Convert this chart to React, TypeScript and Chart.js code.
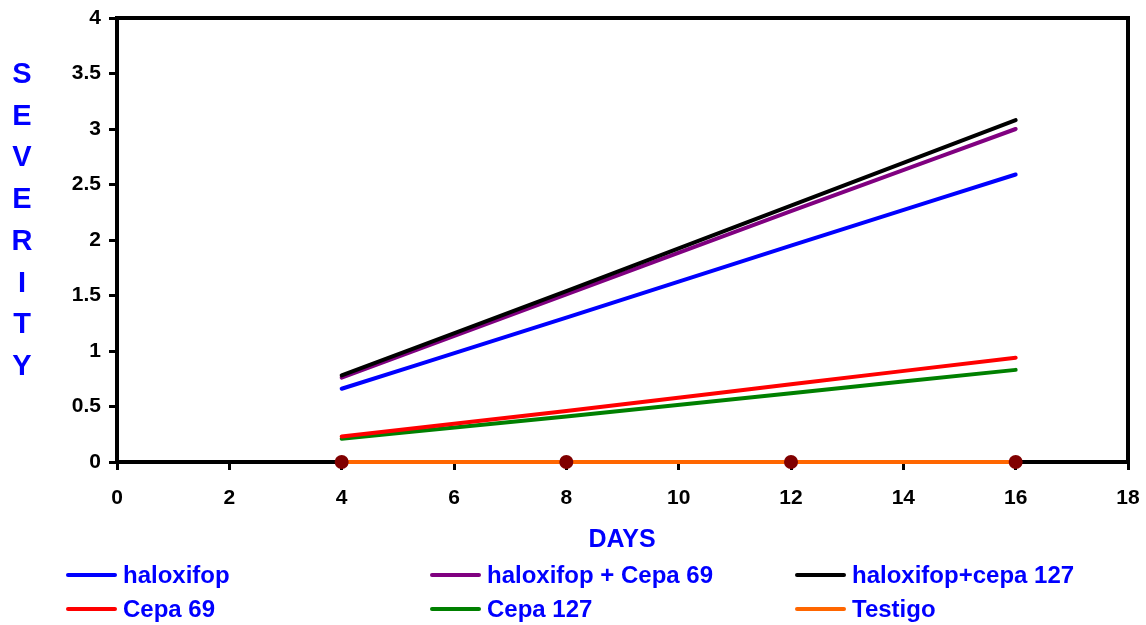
import React, { useEffect, useRef } from "react";
import { Chart, registerables } from "chart.js";

Chart.register(...registerables);

// Sampling days
const days = [4, 8, 12, 16];

// Severity per treatment
const haloxifop = [0.66, 1.3, 1.95, 2.59];
const haloxifopCepa69 = [0.76, 1.51, 2.26, 3.0];
const haloxifopCepa127 = [0.78, 1.54, 2.31, 3.08];
const cepa69 = [0.23, 0.46, 0.7, 0.94];
const cepa127 = [0.21, 0.41, 0.62, 0.83];
const testigo = [0, 0, 0, 0];

const seriesLabels = [
  "haloxifop",
  "haloxifop + Cepa 69",
  "haloxifop+cepa 127",
  "Cepa 69",
  "Cepa 127",
  "Testigo",
];
const seriesColors = ["#0000FF", "#800080", "#000000", "#FF0000", "#008000", "#FF6600"];
const seriesValues = [haloxifop, haloxifopCepa69, haloxifopCepa127, cepa69, cepa127, testigo];

const xTicks = { min: 0, max: 18, step: 2 };
const yTicks = { min: 0, max: 4, step: 0.5 };

const FONT = "'Liberation Sans', Arial, Helvetica, sans-serif";
const BLUE = "#0000FF";

// Thick black frame around the plotting area
const framePlugin = {
  id: "frame",
  beforeDatasetsDraw(chart: any) {
    const { ctx, chartArea } = chart;
    ctx.save();
    ctx.strokeStyle = "#000";
    ctx.lineWidth = 4;
    ctx.strokeRect(
      chartArea.left,
      chartArea.top,
      chartArea.right - chartArea.left,
      chartArea.bottom - chartArea.top
    );
    ctx.restore();
  },
};

export default function App() {
  const canvasRef = useRef<HTMLCanvasElement | null>(null);

  useEffect(() => {
    if (!canvasRef.current) return;
    const datasets = seriesValues.map((vals, i) => {
      const isControl = i === 5;
      return {
        label: seriesLabels[i],
        data: vals.map((v, j) => ({ x: days[j], y: v })),
        borderColor: seriesColors[i],
        backgroundColor: seriesColors[i],
        borderWidth: 4,
        borderCapStyle: "round" as const,
        tension: 0.4,
        cubicInterpolationMode: "monotone" as const,
        pointRadius: isControl ? 7 : 0,
        pointHoverRadius: isControl ? 7 : 0,
        pointBackgroundColor: "#800000",
        pointBorderColor: "#800000",
        pointBorderWidth: 0,
        clip: false as const,
        order: i === 2 ? -1 : i,
        fill: false,
      };
    });

    const chart = new Chart(canvasRef.current, {
      type: "line",
      data: { datasets },
      plugins: [framePlugin],
      options: {
        animation: false,
        responsive: false,
        maintainAspectRatio: false,
        layout: { padding: { left: 0, top: 18, right: 18, bottom: 0 } },
        plugins: {
          legend: { display: false },
          tooltip: { enabled: false },
        },
        scales: {
          x: {
            type: "linear",
            min: xTicks.min,
            max: xTicks.max,
            afterFit(scale: any) {
              scale.height = 163;
              scale.paddingLeft = 0;
              scale.paddingRight = 0;
            },
            ticks: {
              stepSize: xTicks.step,
              autoSkip: false,
              color: "#000",
              padding: 16,
              font: { family: FONT, size: 21, weight: "bold" },
              maxRotation: 0,
            },
            grid: {
              display: true,
              drawOnChartArea: false,
              drawTicks: true,
              tickLength: 8,
              color: "#000",
              lineWidth: 3,
            },
            border: { display: false },
          },
          y: {
            type: "linear",
            min: yTicks.min,
            max: yTicks.max,
            afterFit(scale: any) {
              scale.width = 117;
              scale.paddingTop = 0;
              scale.paddingBottom = 0;
            },
            ticks: {
              stepSize: yTicks.step,
              autoSkip: false,
              color: "#000",
              padding: 8,
              font: { family: FONT, size: 21, weight: "bold" },
              callback: (v: any) => String(v),
            },
            grid: {
              display: true,
              drawOnChartArea: false,
              drawTicks: true,
              tickLength: 8,
              color: "#000",
              lineWidth: 3,
            },
            border: { display: false },
          },
        },
      },
    });
    return () => chart.destroy();
  }, []);

  const yTitle = "SEVERITY".split("");
  const legendCols = [66, 430, 795];
  const legendRows = [575, 609];

  return (
    <div
      style={{
        position: "absolute",
        left: 0,
        top: 0,
        width: 1146,
        height: 625,
        background: "#fff",
        overflow: "hidden",
        fontFamily: FONT,
      }}
    >
      <canvas ref={canvasRef} width={1146} height={625} style={{ display: "block" }} />
      {yTitle.map((ch, i) => (
        <div
          key={i}
          style={{
            position: "absolute",
            left: 2,
            width: 40,
            top: 73 + i * 41.7 - 17,
            height: 34,
            lineHeight: "34px",
            textAlign: "center",
            color: BLUE,
            fontWeight: "bold",
            fontSize: 29,
          }}
        >
          {ch}
        </div>
      ))}
      <div
        style={{
          position: "absolute",
          left: 522,
          width: 200,
          top: 523,
          height: 30,
          lineHeight: "30px",
          textAlign: "center",
          color: BLUE,
          fontWeight: "bold",
          fontSize: 25,
        }}
      >
        DAYS
      </div>
      {seriesLabels.map((label, i) => {
        const col = i % 3;
        const row = Math.floor(i / 3);
        return (
          <div
            key={label}
            style={{
              position: "absolute",
              left: legendCols[col],
              top: legendRows[row] - 14,
              height: 28,
              display: "flex",
              alignItems: "center",
              whiteSpace: "nowrap",
            }}
          >
            <span
              style={{
                display: "inline-block",
                width: 51,
                height: 4,
                borderRadius: 2,
                background: seriesColors[i],
                marginRight: 6,
              }}
            />
            <span style={{ color: BLUE, fontWeight: "bold", fontSize: 24 }}>{label}</span>
          </div>
        );
      })}
    </div>
  );
}
